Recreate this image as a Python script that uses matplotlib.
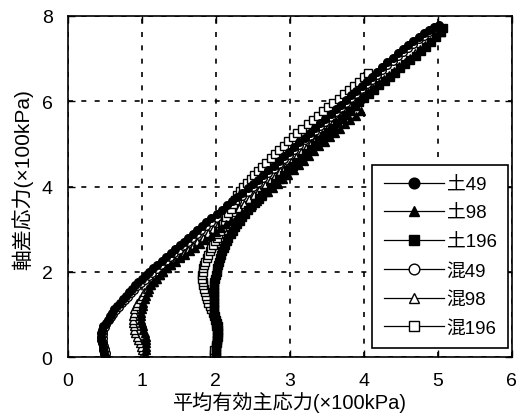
import matplotlib
matplotlib.use("Agg")
import matplotlib.pyplot as plt

plt.rcParams['font.family'] = ['Liberation Sans', 'Noto Sans CJK JP', 'DejaVu Sans']

# 土49 (filled circle)
p_s49 = [0.50, 0.49, 0.48, 0.47, 0.46, 0.45, 0.45, 0.45, 0.46, 0.48, 0.51, 0.54, 0.57, 0.60, 0.63, 0.67,
         0.71, 0.75, 0.79, 0.83, 0.87, 0.91, 0.95, 1.00, 1.05, 1.10, 1.15, 1.21, 1.27, 1.33, 1.39, 1.45,
         1.51, 1.57, 1.63, 1.69, 1.75, 1.81, 1.87, 1.94, 2.01, 2.08, 2.15, 2.22, 2.29, 2.36, 2.43, 2.50,
         2.57, 2.64, 2.71, 2.78, 2.85, 2.92, 2.99, 3.06, 3.13, 3.20, 3.27, 3.34, 3.41, 3.48, 3.55, 3.62,
         3.69, 3.76, 3.83, 3.90, 3.97, 4.04, 4.11, 4.18, 4.25, 4.32, 4.39, 4.46, 4.53, 4.60, 4.67, 4.74,
         4.81, 4.88, 4.95, 5.02]
q_s49 = [0.00, 0.08, 0.16, 0.24, 0.32, 0.40, 0.48, 0.56, 0.64, 0.72, 0.80, 0.88, 0.96, 1.04, 1.12, 1.20,
         1.28, 1.36, 1.44, 1.52, 1.60, 1.68, 1.76, 1.84, 1.92, 2.00, 2.08, 2.17, 2.26, 2.35, 2.44, 2.53,
         2.62, 2.71, 2.80, 2.89, 2.98, 3.07, 3.16, 3.26, 3.36, 3.46, 3.56, 3.66, 3.76, 3.86, 3.96, 4.06,
         4.16, 4.27, 4.38, 4.49, 4.60, 4.71, 4.82, 4.93, 5.04, 5.15, 5.26, 5.37, 5.48, 5.59, 5.70, 5.81,
         5.92, 6.03, 6.14, 6.25, 6.36, 6.47, 6.58, 6.69, 6.80, 6.91, 7.02, 7.13, 7.23, 7.32, 7.41, 7.50,
         7.59, 7.67, 7.74, 7.80]

# 土98 (filled triangle)
p_s98 = [1.03, 1.04, 1.05, 1.06, 1.06, 1.06, 1.05, 1.04, 1.02, 1.01, 1.00, 0.99, 0.99, 0.99, 1.00, 1.01,
         1.02, 1.04, 1.06, 1.08, 1.10, 1.13, 1.16, 1.20, 1.24, 1.29, 1.34, 1.40, 1.46, 1.52, 1.58, 1.65,
         1.72, 1.79, 1.86, 1.93, 2.00, 2.07, 2.14, 2.21, 2.28, 2.35, 2.42, 2.49, 2.56, 2.63, 2.70, 2.77,
         2.84, 2.91, 2.98, 3.05, 3.12, 3.19, 3.26, 3.33, 3.40, 3.47, 3.54, 3.61, 3.68, 3.75, 3.82, 3.89,
         3.96]
q_s98 = [0.00, 0.08, 0.16, 0.24, 0.32, 0.40, 0.48, 0.56, 0.64, 0.72, 0.80, 0.88, 0.96, 1.04, 1.12, 1.20,
         1.28, 1.36, 1.44, 1.52, 1.60, 1.68, 1.76, 1.84, 1.92, 2.00, 2.08, 2.16, 2.24, 2.32, 2.40, 2.48,
         2.57, 2.66, 2.75, 2.84, 2.93, 3.02, 3.11, 3.20, 3.29, 3.38, 3.47, 3.57, 3.67, 3.77, 3.87, 3.97,
         4.07, 4.17, 4.28, 4.39, 4.50, 4.61, 4.72, 4.83, 4.94, 5.05, 5.16, 5.26, 5.36, 5.46, 5.56, 5.66,
         5.76]

# 土196 (filled square)
p_s196 = [2.00, 2.00, 2.00, 2.00, 2.01, 2.01, 2.01, 2.01, 2.01, 2.00, 2.00, 1.99, 1.99, 1.98, 1.98, 1.97,
          1.97, 1.97, 1.97, 1.97, 1.97, 1.98, 1.98, 1.99, 2.00, 2.01, 2.02, 2.03, 2.04, 2.05, 2.07, 2.09,
          2.11, 2.13, 2.15, 2.17, 2.20, 2.23, 2.26, 2.29, 2.32, 2.36, 2.40, 2.44, 2.48, 2.53, 2.58, 2.63,
          2.68, 2.74, 2.80, 2.86, 2.92, 2.98, 3.04, 3.10, 3.16, 3.22, 3.28, 3.34, 3.40, 3.46, 3.52, 3.58,
          3.64, 3.70, 3.76, 3.82, 3.88, 3.94, 4.00, 4.07, 4.14, 4.21, 4.28, 4.35, 4.42, 4.49, 4.56, 4.63,
          4.70, 4.77, 4.84, 4.91, 4.98, 5.04, 5.07]
q_s196 = [0.00, 0.08, 0.16, 0.24, 0.32, 0.40, 0.48, 0.56, 0.64, 0.72, 0.80, 0.88, 0.96, 1.04, 1.12, 1.20,
          1.28, 1.36, 1.44, 1.52, 1.60, 1.68, 1.76, 1.84, 1.92, 2.00, 2.08, 2.16, 2.24, 2.32, 2.40, 2.48,
          2.56, 2.64, 2.72, 2.80, 2.88, 2.96, 3.04, 3.12, 3.20, 3.28, 3.36, 3.44, 3.52, 3.61, 3.70, 3.79,
          3.88, 3.98, 4.08, 4.18, 4.28, 4.38, 4.48, 4.58, 4.68, 4.78, 4.88, 4.98, 5.08, 5.18, 5.28, 5.38,
          5.48, 5.58, 5.68, 5.78, 5.88, 5.98, 6.07, 6.17, 6.27, 6.37, 6.47, 6.57, 6.67, 6.77, 6.87, 6.97,
          7.07, 7.17, 7.28, 7.39, 7.50, 7.62, 7.72]

# 混49 (open circle)
p_m49 = [0.52, 0.51, 0.50, 0.49, 0.48, 0.47, 0.47, 0.48, 0.50, 0.52, 0.55, 0.58, 0.61, 0.65, 0.69, 0.73,
         0.77, 0.81, 0.85, 0.89, 0.94, 0.99, 1.04, 1.09, 1.14, 1.20, 1.26, 1.32, 1.38, 1.44, 1.50, 1.56,
         1.62, 1.68, 1.74, 1.80, 1.87, 1.94, 2.01, 2.08, 2.15, 2.22, 2.29, 2.36, 2.43, 2.50, 2.57, 2.64,
         2.71, 2.78, 2.85, 2.92, 2.99, 3.06, 3.13, 3.20, 3.27, 3.34, 3.41, 3.48, 3.55, 3.62, 3.69, 3.76,
         3.83, 3.90, 3.97, 4.04, 4.11, 4.18, 4.25, 4.32, 4.39, 4.46, 4.53, 4.60, 4.67, 4.74, 4.81, 4.88,
         4.95, 5.01]
q_m49 = [0.00, 0.09, 0.18, 0.27, 0.36, 0.45, 0.54, 0.62, 0.70, 0.78, 0.86, 0.94, 1.02, 1.10, 1.18, 1.26,
         1.34, 1.42, 1.50, 1.58, 1.66, 1.74, 1.82, 1.90, 1.98, 2.07, 2.16, 2.25, 2.34, 2.43, 2.52, 2.61,
         2.70, 2.79, 2.88, 2.97, 3.07, 3.17, 3.27, 3.37, 3.47, 3.57, 3.67, 3.77, 3.87, 3.98, 4.09, 4.20,
         4.31, 4.42, 4.53, 4.64, 4.75, 4.86, 4.97, 5.08, 5.19, 5.30, 5.41, 5.52, 5.63, 5.74, 5.85, 5.96,
         6.07, 6.18, 6.29, 6.40, 6.51, 6.62, 6.73, 6.84, 6.95, 7.05, 7.15, 7.25, 7.35, 7.45, 7.54, 7.63,
         7.71, 7.77]

# 混98 (open triangle)
p_m98 = [1.02, 1.01, 1.00, 0.99, 0.97, 0.95, 0.93, 0.91, 0.90, 0.89, 0.88, 0.88, 0.88, 0.89, 0.90, 0.92,
         0.94, 0.97, 1.00, 1.03, 1.07, 1.11, 1.15, 1.19, 1.24, 1.29, 1.34, 1.39, 1.45, 1.51, 1.57, 1.63,
         1.69, 1.75, 1.82, 1.89, 1.96, 2.03, 2.10, 2.17, 2.24, 2.31, 2.38, 2.45, 2.52, 2.59, 2.66, 2.73,
         2.80, 2.87, 2.94, 3.01, 3.08, 3.15, 3.22, 3.29, 3.36, 3.43, 3.50, 3.57, 3.64, 3.71, 3.78, 3.85,
         3.92, 3.99, 4.06, 4.13, 4.20, 4.27, 4.34, 4.41, 4.48, 4.55, 4.62, 4.69, 4.76, 4.83, 4.90, 4.97,
         5.04]
q_m98 = [0.00, 0.08, 0.16, 0.24, 0.32, 0.40, 0.48, 0.56, 0.64, 0.72, 0.80, 0.88, 0.96, 1.04, 1.12, 1.20,
         1.28, 1.36, 1.44, 1.52, 1.60, 1.68, 1.76, 1.84, 1.92, 2.00, 2.08, 2.16, 2.25, 2.34, 2.43, 2.52,
         2.61, 2.70, 2.80, 2.90, 3.00, 3.10, 3.20, 3.30, 3.40, 3.50, 3.60, 3.70, 3.81, 3.92, 4.03, 4.14,
         4.25, 4.36, 4.47, 4.58, 4.69, 4.80, 4.91, 5.02, 5.13, 5.24, 5.35, 5.46, 5.57, 5.68, 5.79, 5.90,
         6.01, 6.12, 6.22, 6.32, 6.42, 6.52, 6.62, 6.72, 6.82, 6.92, 7.02, 7.12, 7.22, 7.32, 7.42, 7.52,
         7.62]

# 混196 (open square)
p_m196 = [1.97, 1.97, 1.98, 2.00, 2.02, 2.03, 2.03, 2.03, 2.03, 2.02, 2.00, 1.98, 1.96, 1.94, 1.92, 1.90,
          1.88, 1.87, 1.85, 1.84, 1.83, 1.82, 1.81, 1.81, 1.82, 1.83, 1.84, 1.86, 1.88, 1.90, 1.92, 1.94,
          1.96, 1.99, 2.01, 2.03, 2.05, 2.08, 2.10, 2.12, 2.14, 2.17, 2.20, 2.23, 2.26, 2.29, 2.32, 2.37,
          2.42, 2.47, 2.52, 2.57, 2.62, 2.68, 2.74, 2.80, 2.86, 2.92, 2.98, 3.04, 3.10, 3.17, 3.24, 3.31,
          3.38, 3.45, 3.52, 3.59, 3.66, 3.73, 3.80, 3.87, 3.94, 4.00, 4.05]
q_m196 = [0.00, 0.08, 0.16, 0.28, 0.40, 0.48, 0.56, 0.64, 0.72, 0.80, 0.88, 0.96, 1.04, 1.12, 1.20, 1.28,
          1.36, 1.44, 1.52, 1.60, 1.68, 1.76, 1.84, 1.92, 2.00, 2.08, 2.16, 2.24, 2.32, 2.40, 2.48, 2.56,
          2.64, 2.72, 2.80, 2.88, 2.96, 3.04, 3.12, 3.20, 3.28, 3.38, 3.48, 3.58, 3.68, 3.79, 3.90, 3.99,
          4.08, 4.17, 4.26, 4.36, 4.46, 4.56, 4.66, 4.76, 4.86, 4.96, 5.06, 5.16, 5.26, 5.36, 5.46, 5.56,
          5.66, 5.76, 5.86, 5.96, 6.06, 6.16, 6.26, 6.36, 6.46, 6.56, 6.66]

series = [
    ("土49", p_s49, q_s49, "o", "black"),
    ("土98", p_s98, q_s98, "^", "black"),
    ("土196", p_s196, q_s196, "s", "black"),
    ("混49", p_m49, q_m49, "o", "white"),
    ("混98", p_m98, q_m98, "^", "white"),
    ("混196", p_m196, q_m196, "s", "white"),
]

fig = plt.figure(figsize=(5.26, 4.14), dpi=100)
ax = fig.add_axes([0.129, 0.135, 0.844, 0.824])

for label, p, q, mk, fc in series:
    # filled series drawn above the open ones so the band looks dark
    z = 3 if fc == "black" else 2
    ax.plot(p, q, color="black", lw=0.9, marker=mk, markersize=5.5, zorder=z,
            markerfacecolor=fc, markeredgecolor="black", markeredgewidth=1.0, label=label)

ax.set_xlim(0, 6)
ax.set_ylim(0, 8)
ax.set_xticks(range(0, 7))
ax.set_yticks(range(0, 9, 2))
ax.grid(True, color="black", linestyle=(0, (3, 5)), linewidth=1.2)
ax.tick_params(direction="in", top=True, right=True, labelsize=14, length=5, width=1)
ax.tick_params(axis="x", pad=11)
ax.tick_params(axis="y", pad=11)
for s in ax.spines.values():
    s.set_linewidth(1.2)
    s.set_zorder(4)

ax.set_xlabel("平均有効主応力(×100kPa)", fontsize=14.5)
ax.xaxis.set_label_coords(0.5, -0.1)
ax.set_ylabel("軸差応力(×100kPa)", fontsize=15)
ax.yaxis.set_label_coords(-0.079, 0.522)

leg = ax.legend(loc="lower right", bbox_to_anchor=(0.991, 0.026), borderaxespad=0,
                fontsize=13.5, handlelength=3.2, labelspacing=0.62, fancybox=False,
                framealpha=1, edgecolor="black", borderpad=0.6, handletextpad=0.15,
                markerscale=1.4)
leg.get_frame().set_linewidth(1.2)
leg.set_zorder(5)

fig.savefig("out.png", dpi=100)
